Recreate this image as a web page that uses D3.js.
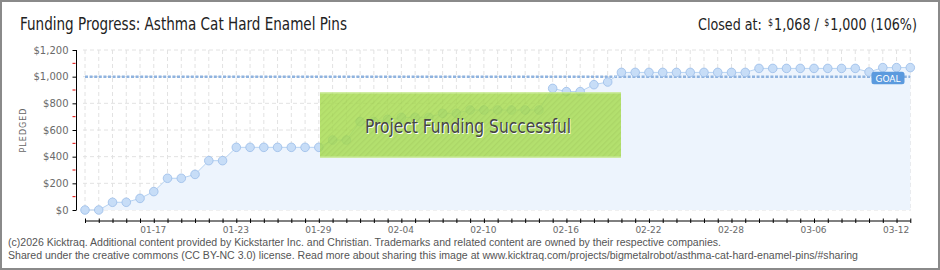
<!DOCTYPE html>
<html>
<head>
<meta charset="utf-8">
<script src="https://cdn.jsdelivr.net/npm/d3@7"></script>
<style>
  body { margin: 0; background: #fff; }
  svg { display: block; }
</style>
</head>
<body>
<div id="chart"></div>
<script>
// constantes
const w = 940;
const h = 270;

// données
const startDay = new Date(2026, 0, 12);
const endDay = new Date(2026, 2, 13);
const pledged = [
  0, 0, 58, 58, 87, 138, 238, 238, 267, 370,
  370, 470, 470, 470, 470, 470, 470, 470, 525, 525,
  663, 663, 680, 695, 695, 695, 725, 725, 750, 750,
  750, 750, 750, 750, 912, 888, 888, 940, 960, 1032,
  1032, 1032, 1032, 1032, 1032, 1032, 1032, 1032, 1032, 1062,
  1062, 1062, 1062, 1062, 1062, 1062, 1062, 1035, 1068, 1068,
  1068
];
const goal = 1000;
const yTicks = [0, 200, 400, 600, 800, 1000, 1200];
const yMinor = [100, 300, 500, 700, 900, 1100];
const xTickLabels = ["01-17", "01-23", "01-29", "02-04", "02-10", "02-16", "02-22", "02-28", "03-06", "03-12"];

const days = d3.timeDay.range(startDay, d3.timeDay.offset(endDay, 1));
const data = days.map((d, i) => ({date: d, value: pledged[i]}));
const fmtDay = d3.timeFormat("%m-%d");

// svg
const svg = d3.select("#chart")
  .append("svg")
  .attr("width", w)
  .attr("height", h);

const defs = svg.append("defs");
const hatch = defs.append("pattern")
  .attr("id", "hatch")
  .attr("patternUnits", "userSpaceOnUse")
  .attr("width", 4)
  .attr("height", 4)
  .attr("patternTransform", "rotate(45)");
hatch.append("rect").attr("width", 4).attr("height", 4).attr("fill", "#a7dc4f");
hatch.append("rect").attr("width", 1.3).attr("height", 4).attr("fill", "#9dd047");

// cadre
svg.append("rect")
  .attr("x", 1).attr("y", 1)
  .attr("width", w - 2).attr("height", h - 2)
  .attr("fill", "#fff")
  .attr("stroke", "#8a8a8a")
  .attr("stroke-width", 2);

// échelles
const xScale = d3.scaleTime()
  .domain([startDay, endDay])
  .range([85, 910.3]);

const yScale = d3.scaleLinear()
  .domain([0, 1200])
  .range([210, 50]);

// grille
svg.append("g")
  .selectAll("line")
  .data(days)
  .enter()
  .append("line")
  .attr("x1", d => xScale(d))
  .attr("x2", d => xScale(d))
  .attr("y1", yScale(1200))
  .attr("y2", yScale(0))
  .attr("stroke", "#e2e2e2")
  .attr("stroke-dasharray", "4,3");

svg.append("g")
  .selectAll("line")
  .data(yTicks)
  .enter()
  .append("line")
  .attr("x1", 83)
  .attr("x2", 911)
  .attr("y1", d => yScale(d))
  .attr("y2", d => yScale(d))
  .attr("stroke", "#e2e2e2")
  .attr("stroke-dasharray", "4,3");

// aire
const area = d3.area()
  .x(d => xScale(d.date))
  .y0(yScale(0))
  .y1(d => yScale(d.value));

svg.append("path")
  .datum(data)
  .attr("d", area)
  .attr("fill", "#edf4fd");

// ligne objectif
svg.append("line")
  .attr("x1", xScale(startDay))
  .attr("x2", xScale(endDay))
  .attr("y1", yScale(goal))
  .attr("y2", yScale(goal))
  .attr("stroke", "#8fb3df")
  .attr("stroke-width", 2.5)
  .attr("stroke-dasharray", "3,1.6");

// ligne
const line = d3.line()
  .x(d => xScale(d.date))
  .y(d => yScale(d.value));

svg.append("path")
  .datum(data)
  .attr("d", line)
  .attr("fill", "none")
  .attr("stroke", "#b7d3f2")
  .attr("stroke-width", 1);

// points
svg.append("g")
  .selectAll("circle")
  .data(data)
  .enter()
  .append("circle")
  .attr("cx", d => xScale(d.date))
  .attr("cy", d => yScale(d.value))
  .attr("r", 4.3)
  .attr("fill", "#c7ddf7")
  .attr("stroke", "#9abde8")
  .attr("stroke-width", 0.8);

// étiquette GOAL
const goalG = svg.append("g");
goalG.append("rect")
  .attr("x", 871.5)
  .attr("y", yScale(goal) - 5)
  .attr("width", 33)
  .attr("height", 12.5)
  .attr("rx", 2.5)
  .attr("fill", "#5b9ade");
goalG.append("text")
  .attr("x", 888)
  .attr("y", yScale(goal) + 5)
  .attr("text-anchor", "middle")
  .attr("font-family", "DejaVu Sans")
  .attr("font-size", "9px")
  .attr("fill", "#fff")
  .text("GOAL");

// axe y
const axeY = d3.axisLeft(yScale)
  .tickValues(yTicks)
  .tickSize(4)
  .tickFormat(d => "$" + d3.format(",")(d));

const gY = svg.append("g")
  .attr("transform", "translate(76.5,0)")
  .call(axeY);
gY.select(".domain").attr("stroke", "#000").attr("d", "M0," + yScale(1200) + "V" + yScale(0));
gY.selectAll(".tick line").attr("stroke", "#000");
gY.selectAll(".tick text")
  .attr("x", -8)
  .attr("font-family", "DejaVu Sans")
  .attr("font-size", "10px")
  .attr("fill", "#6a6a6a");

gY.selectAll(".minor")
  .data(yMinor)
  .enter()
  .append("line")
  .attr("class", "minor")
  .attr("x1", -4)
  .attr("x2", -1)
  .attr("y1", d => yScale(d))
  .attr("y2", d => yScale(d))
  .attr("stroke", "#e00000");

// axe x
const axeX = d3.axisBottom(xScale)
  .tickValues(days)
  .tickSize(2.5)
  .tickSizeOuter(0)
  .tickFormat(d => xTickLabels.includes(fmtDay(d)) ? fmtDay(d) : "");

const gX = svg.append("g")
  .attr("transform", "translate(0,220.5)")
  .call(axeX);
gX.select(".domain").attr("stroke", "#000");
gX.selectAll(".tick line").attr("stroke", "#000").attr("y1", -2);
gX.selectAll(".tick text")
  .attr("y", 6)
  .attr("dx", -1)
  .attr("font-family", "DejaVu Sans")
  .attr("font-size", "9px")
  .attr("fill", "#6a6a6a");

// titre axe y
svg.append("text")
  .attr("transform", "translate(26,130) rotate(-90)")
  .attr("text-anchor", "middle")
  .attr("font-family", "DejaVu Sans")
  .attr("font-size", "8px")
  .attr("letter-spacing", "1px")
  .attr("fill", "#666")
  .text("PLEDGED");

// bandeau succès
const banner = svg.append("g").attr("opacity", 0.82);
banner.append("rect")
  .attr("x", 320)
  .attr("y", 92)
  .attr("width", 301)
  .attr("height", 66)
  .attr("fill", "url(#hatch)");
banner.append("rect")
  .attr("x", 320)
  .attr("y", 92)
  .attr("width", 301)
  .attr("height", 1.5)
  .attr("fill", "#c6ea8e");
banner.append("rect")
  .attr("x", 320)
  .attr("y", 156.5)
  .attr("width", 301)
  .attr("height", 1.5)
  .attr("fill", "#c6ea8e");

// texte avec ombre blanche
const bannerText = svg.append("text")
  .attr("x", 365)
  .attr("y", 133)
  .attr("font-family", "Liberation Sans Narrow, DejaVu Sans Condensed, sans-serif")
  .attr("font-size", "20px")
  .attr("textLength", 206)
  .attr("lengthAdjust", "spacingAndGlyphs")
  .attr("fill", "#454545")
  .style("text-shadow", "1px 1px 0 #fff")
  .text("Project Funding Successful");

// titre
svg.append("text")
  .attr("x", 20)
  .attr("y", 30)
  .attr("font-family", "Liberation Sans Narrow, DejaVu Sans Condensed, sans-serif")
  .attr("font-size", "17px")
  .attr("textLength", 327)
  .attr("lengthAdjust", "spacingAndGlyphs")
  .attr("fill", "#222")
  .text("Funding Progress: Asthma Cat Hard Enamel Pins");

// montant : morceaux posés les uns après les autres
const closedParts = [
  {t: "Closed at:", size: 16, dy: 0, gap: 7},
  {t: "$", size: 10, dy: -4, gap: 1},
  {t: "1,068 /", size: 16, dy: 0, gap: 6},
  {t: "$", size: 10, dy: -4, gap: 1},
  {t: "1,000 (106%)", size: 16, dy: 0, gap: 0}
];
const closed = svg.append("g");
let cursor = 0;
closedParts.forEach(p => {
  const t = closed.append("text")
    .attr("x", cursor)
    .attr("y", 30 + p.dy)
    .attr("font-family", "Liberation Sans Narrow, DejaVu Sans Condensed, sans-serif")
    .attr("font-size", p.size + "px")
    .attr("fill", "#222")
    .text(p.t);
  cursor += t.node().getComputedTextLength() + p.gap;
});
closed.attr("transform", "translate(698,0) scale(" + (219 / cursor) + ",1)");

// pied de page
svg.append("text")
  .attr("x", 8)
  .attr("y", 246)
  .attr("font-family", "Liberation Sans, sans-serif")
  .attr("font-size", "10px")
  .attr("textLength", 713)
  .attr("lengthAdjust", "spacingAndGlyphs")
  .attr("fill", "#555")
  .text("(c)2026 Kicktraq. Additional content provided by Kickstarter Inc. and Christian. Trademarks and related content are owned by their respective companies.");
svg.append("text")
  .attr("x", 8)
  .attr("y", 259)
  .attr("font-family", "Liberation Sans, sans-serif")
  .attr("font-size", "10px")
  .attr("textLength", 850)
  .attr("lengthAdjust", "spacingAndGlyphs")
  .attr("fill", "#555")
  .text("Shared under the creative commons (CC BY-NC 3.0) license. Read more about sharing this image at www.kicktraq.com/projects/bigmetalrobot/asthma-cat-hard-enamel-pins/#sharing");
</script>
</body>
</html>
